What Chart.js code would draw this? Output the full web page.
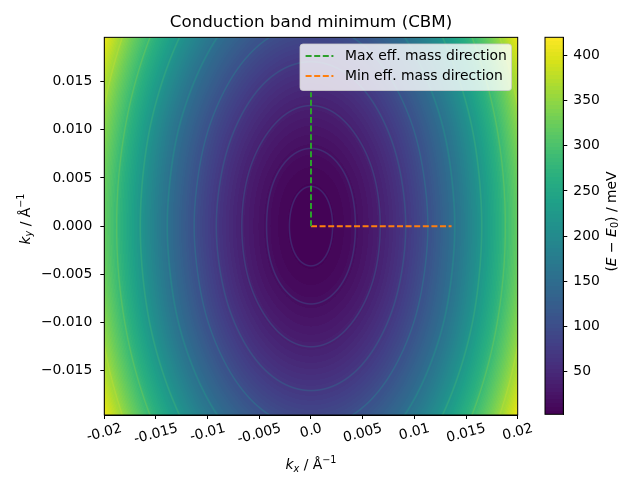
<!DOCTYPE html>
<html>
<head>
  <title>Conduction band minimum (CBM)</title>
  <script src="https://cdn.jsdelivr.net/npm/chart.js"></script>
  <style>
    body { margin: 0; background: #fff; }
    #wrap { position: relative; width: 640px; height: 480px; }
    #bandChart { position: absolute; left: 0; top: 0; }
    #colorbar { position: absolute; left: 530px; top: 0; }
  </style>
</head>
<body>
  <div id="wrap">
    <canvas id="bandChart" width="640" height="480"></canvas>
    <canvas id="colorbar" width="110" height="480"></canvas>
  </div>

  <script>
    // sampled band energy (E - E0, meV), rows go from bottom (ky min) to top (ky max)
    const kxGrid = [-0.02, -0.015, -0.01, -0.005, 0, 0.005, 0.01, 0.015, 0.02];
    const kyGrid = [-0.0196, -0.0147, -0.0098, -0.0049, 0, 0.0049, 0.0098, 0.0147, 0.0196];
    const energy = [
      [408, 269, 170, 111, 91, 111, 170, 269, 408],
      [369, 231, 132, 72, 52, 72, 132, 231, 369],
      [342, 203, 104, 45, 25, 45, 104, 203, 342],
      [325, 187, 88, 28, 8, 28, 88, 187, 325],
      [320, 181, 82, 23, 2.8, 23, 82, 181, 320],
      [325, 187, 88, 28, 8, 28, 88, 187, 325],
      [342, 203, 104, 45, 25, 45, 104, 203, 342],
      [369, 231, 132, 72, 52, 72, 132, 231, 369],
      [408, 269, 170, 111, 91, 111, 170, 269, 408]
    ];
    const contourLevels = [6.4, 17.8, 38.6, 69.3, 104, 156, 219, 283, 355];
    const energyRange = [2.8, 420];

    const maxDirection = [{ x: 0, y: 0 }, { x: 0, y: 0.0139 }];
    const minDirection = [{ x: 0, y: 0 }, { x: 0.0136, y: 0 }];

    const xTickLabels = ['-0.02', '-0.015', '-0.01', '-0.005', '0.0', '0.005', '0.01', '0.015', '0.02'];
    const yTickLabels = ['\u22120.015', '\u22120.010', '\u22120.005', '0.000', '0.005', '0.010', '0.015'];
    const cbarTicks = [50, 100, 150, 200, 250, 300, 350, 400];

    const FONT = 'DejaVu Sans';
    Chart.defaults.font.family = FONT;
    Chart.defaults.font.size = 13.9;
    Chart.defaults.color = '#000';

    const VIRIDIS = ['#440154', '#48186a', '#472d7b', '#424086', '#3b528b', '#33638d', '#2c728e', '#26828e',
      '#21918c', '#1fa088', '#28ae80', '#3fbc73', '#5ec962', '#84d44b', '#addc30', '#d8e219', '#fde725']
      .map(h => [parseInt(h.slice(1, 3), 16), parseInt(h.slice(3, 5), 16), parseInt(h.slice(5, 7), 16)]);

    function viridis(t) {
      t = Math.min(1, Math.max(0, t));
      const s = t * (VIRIDIS.length - 1);
      const i = Math.min(Math.floor(s), VIRIDIS.length - 2);
      const f = s - i;
      return [0, 1, 2].map(k => VIRIDIS[i][k] + (VIRIDIS[i + 1][k] - VIRIDIS[i][k]) * f);
    }

    function norm(v) {
      return (v - energyRange[0]) / (energyRange[1] - energyRange[0]);
    }

    // filled contour look: quantize the colour into many bands
    const N_BANDS = 100;
    function fillColour(v) {
      const t = norm(v);
      const b = Math.min(N_BANDS - 1, Math.max(0, Math.floor(t * N_BANDS)));
      return viridis((b + 0.5) / N_BANDS);
    }

    // pad the grid by one cell each side so the cubic has neighbours at the border
    function padRow(a) {
      const n = a.length;
      return [3 * a[0] - 3 * a[1] + a[2]].concat(a, [3 * a[n - 1] - 3 * a[n - 2] + a[n - 3]]);
    }
    const wide = energy.map(padRow);
    const nr = wide.length;
    const padded = [wide[0].map((v, i) => 3 * v - 3 * wide[1][i] + wide[2][i])]
      .concat(wide, [wide[nr - 1].map((v, i) => 3 * v - 3 * wide[nr - 2][i] + wide[nr - 3][i])]);

    function cr(p0, p1, p2, p3, t) {
      return 0.5 * (2 * p1 + (-p0 + p2) * t + (2 * p0 - 5 * p1 + 4 * p2 - p3) * t * t + (-p0 + 3 * p1 - 3 * p2 + p3) * t * t * t);
    }

    function sampleEnergy(kx, ky) {
      const fx = (kx - kxGrid[0]) / (kxGrid[1] - kxGrid[0]);
      const fy = (ky - kyGrid[0]) / (kyGrid[1] - kyGrid[0]);
      const i = Math.min(kxGrid.length - 2, Math.max(0, Math.floor(fx)));
      const j = Math.min(kyGrid.length - 2, Math.max(0, Math.floor(fy)));
      const tx = fx - i, ty = fy - j;
      const col = [];
      for (let r = 0; r < 4; r++) {
        const row = padded[j + r];
        col.push(cr(row[i], row[i + 1], row[i + 2], row[i + 3], tx));
      }
      return cr(col[0], col[1], col[2], col[3], ty);
    }

    const heatmapPlugin = {
      id: 'heatmap',
      beforeDatasetsDraw(chart) {
        const { ctx, chartArea: a, scales: { x, y } } = chart;
        const x0 = Math.floor(a.left), y0 = Math.floor(a.top);
        const w = Math.ceil(a.right) - x0, h = Math.ceil(a.bottom) - y0;
        const vals = new Float32Array(w * h);
        for (let j = 0; j < h; j++) {
          const ky = y.getValueForPixel(y0 + j + 0.5);
          for (let i = 0; i < w; i++) {
            vals[j * w + i] = sampleEnergy(x.getValueForPixel(x0 + i + 0.5), ky);
          }
        }
        const off = document.createElement('canvas');
        off.width = w; off.height = h;
        const octx = off.getContext('2d');
        const img = octx.createImageData(w, h);
        for (let j = 0; j < h; j++) {
          for (let i = 0; i < w; i++) {
            const k = j * w + i;
            const v = vals[k];
            const gx = (vals[j * w + Math.min(w - 1, i + 1)] - vals[j * w + Math.max(0, i - 1)]) / 2;
            const gy = (vals[Math.min(h - 1, j + 1) * w + i] - vals[Math.max(0, j - 1) * w + i]) / 2;
            const g = Math.hypot(gx, gy) || 1e-9;
            let best = Infinity, lev = 0;
            for (const c of contourLevels) {
              const d = Math.abs(v - c) / g;
              if (d < best) { best = d; lev = c; }
            }
            let col = fillColour(v);
            const cover = Math.max(0, Math.min(1, 1.25 - best));
            if (cover > 0) {
              const lc = viridis(norm(lev) + 0.2);
              const al = cover * 0.5 * (1 - 0.8 * norm(lev));
              col = col.map((c, m) => c * (1 - al) + lc[m] * al);
            }
            img.data[k * 4] = col[0];
            img.data[k * 4 + 1] = col[1];
            img.data[k * 4 + 2] = col[2];
            img.data[k * 4 + 3] = 255;
          }
        }
        octx.putImageData(img, 0, 0);
        ctx.save();
        ctx.beginPath();
        ctx.rect(a.left, a.top, a.width, a.height);
        ctx.clip();
        ctx.drawImage(off, x0, y0);
        ctx.restore();
      }
    };

    // draws text with italic / sub / superscript pieces, centred on cx, baseline cy
    function drawMathLabel(ctx, parts, cx, cy, angle) {
      ctx.save();
      ctx.translate(cx, cy);
      ctx.rotate(angle);
      ctx.fillStyle = '#000';
      ctx.textAlign = 'left';
      ctx.textBaseline = 'alphabetic';
      const widths = parts.map(p => {
        ctx.font = (p.italic ? 'italic ' : '') + (p.size || 13.9) + 'px ' + FONT;
        return ctx.measureText(p.t).width;
      });
      let px = -widths.reduce((s, v) => s + v, 0) / 2;
      parts.forEach((p, i) => {
        ctx.font = (p.italic ? 'italic ' : '') + (p.size || 13.9) + 'px ' + FONT;
        ctx.fillText(p.t, px, p.dy || 0);
        px += widths[i];
      });
      ctx.restore();
    }

    const decorPlugin = {
      id: 'decor',
      afterDraw(chart) {
        const { ctx, chartArea: a, scales: { x } } = chart;

        // frame
        ctx.save();
        ctx.strokeStyle = '#000';
        ctx.lineWidth = 1;
        ctx.strokeRect(a.left, a.top, a.width, a.height);
        ctx.restore();

        // rotated x tick labels
        const ang = 15 * Math.PI / 180;
        ctx.save();
        ctx.font = '13.9px ' + FONT;
        ctx.fillStyle = '#000';
        x.ticks.forEach((t, i) => {
          const label = xTickLabels[i];
          if (label === undefined) return;
          const px = x.getPixelForValue(t.value);
          const w = ctx.measureText(label).width;
          const cy = a.bottom + 7 + (w * Math.sin(ang) + 13 * Math.cos(ang)) / 2;
          ctx.save();
          ctx.translate(px, cy);
          ctx.rotate(-ang);
          ctx.textAlign = 'center';
          ctx.textBaseline = 'middle';
          ctx.fillText(label, 0, 0);
          ctx.restore();
        });
        ctx.restore();

        // axis titles
        drawMathLabel(ctx, [
          { t: 'k', italic: true },
          { t: 'x', italic: true, size: 9.7, dy: 2.8 },
          { t: ' / \u00c5' },
          { t: '\u22121', size: 9.7, dy: -5.8 }
        ], (a.left + a.right) / 2, 469, 0);
        drawMathLabel(ctx, [
          { t: 'k', italic: true },
          { t: 'y', italic: true, size: 9.7, dy: 2.8 },
          { t: ' / \u00c5' },
          { t: '\u22121', size: 9.7, dy: -5.8 }
        ], 29.5, 219, -Math.PI / 2);

        // legend
        const bx = 300, by = 44, bw = 211.5, bh = 46.5;
        ctx.save();
        ctx.beginPath();
        ctx.roundRect(bx, by, bw, bh, 3);
        ctx.fillStyle = 'rgba(255,255,255,0.8)';
        ctx.fill();
        ctx.strokeStyle = 'rgba(204,204,204,0.8)';
        ctx.lineWidth = 1;
        ctx.stroke();
        chart.data.datasets.forEach((ds, i) => {
          const ry = 56 + i * 20;
          ctx.beginPath();
          ctx.setLineDash(ds.borderDash);
          ctx.strokeStyle = ds.borderColor;
          ctx.lineWidth = ds.borderWidth;
          ctx.moveTo(bx + 5.6, ry);
          ctx.lineTo(bx + 33.4, ry);
          ctx.stroke();
          ctx.setLineDash([]);
          ctx.font = '13.9px ' + FONT;
          ctx.fillStyle = '#000';
          ctx.textAlign = 'left';
          ctx.textBaseline = 'middle';
          ctx.fillText(ds.label, bx + 45, ry + 0.5);
        });
        ctx.restore();
      }
    };

    new Chart(document.getElementById('bandChart'), {
      type: 'scatter',
      data: {
        datasets: [
          {
            label: 'Max eff. mass direction',
            data: maxDirection,
            showLine: true,
            borderColor: '#2ca02c',
            borderWidth: 2,
            borderDash: [6, 2.6],
            pointRadius: 0,
            fill: false
          },
          {
            label: 'Min eff. mass direction',
            data: minDirection,
            showLine: true,
            borderColor: '#ff7f0e',
            borderWidth: 2,
            borderDash: [6, 2.6],
            pointRadius: 0,
            fill: false
          }
        ]
      },
      options: {
        responsive: false,
        animation: false,
        layout: { padding: { left: 0, right: 122.3, top: 0, bottom: 0 } },
        plugins: {
          legend: { display: false },
          tooltip: { enabled: false },
          title: {
            display: true,
            text: 'Conduction band minimum (CBM)',
            fullSize: false,
            color: '#000',
            font: { family: FONT, size: 16.7, weight: 'normal' },
            padding: { top: 13, bottom: 4.3 }
          }
        },
        scales: {
          x: {
            type: 'linear',
            min: -0.02,
            max: 0.02,
            ticks: { stepSize: 0.005, display: false },
            grid: { drawOnChartArea: false, tickLength: 4, color: '#000' },
            border: { color: '#000' },
            afterFit: s => { s.height = 65; }
          },
          y: {
            type: 'linear',
            min: -0.0196,
            max: 0.0196,
            ticks: {
              stepSize: 0.005,
              includeBounds: false,
              padding: 8,
              color: '#000',
              font: { family: FONT, size: 13.9 },
              callback: (v, i) => yTickLabels[i]
            },
            grid: { drawOnChartArea: false, tickLength: 4, color: '#000' },
            border: { color: '#000' },
            afterFit: s => { s.width = 104.3; }
          }
        }
      },
      plugins: [heatmapPlugin, decorPlugin]
    });

    const colorbarPlugin = {
      id: 'colorbarFill',
      beforeDatasetsDraw(chart) {
        const { ctx, chartArea: a, scales: { y } } = chart;
        ctx.save();
        ctx.beginPath();
        ctx.rect(a.left, a.top, a.width, a.height);
        ctx.clip();
        for (let py = Math.floor(a.top); py < Math.ceil(a.bottom); py++) {
          const c = fillColour(y.getValueForPixel(py + 0.5));
          ctx.fillStyle = `rgb(${c[0]},${c[1]},${c[2]})`;
          ctx.fillRect(a.left, py, a.width, 1);
        }
        ctx.restore();
      },
      afterDraw(chart) {
        const { ctx, chartArea: a } = chart;
        ctx.save();
        ctx.strokeStyle = '#000';
        ctx.lineWidth = 1;
        ctx.strokeRect(a.left, a.top, a.width, a.height);
        ctx.restore();
        drawMathLabel(ctx, [
          { t: '(' },
          { t: 'E', italic: true },
          { t: ' \u2212 ' },
          { t: 'E', italic: true },
          { t: '0', size: 9.7, dy: 2.8 },
          { t: ') / meV' }
        ], 85.5, 221.5, -Math.PI / 2);
      }
    };

    new Chart(document.getElementById('colorbar'), {
      type: 'scatter',
      data: { datasets: [] },
      options: {
        responsive: false,
        animation: false,
        layout: { padding: { left: 15, right: 0, top: 37.3, bottom: 65.7 } },
        plugins: { legend: { display: false }, tooltip: { enabled: false } },
        scales: {
          x: { display: false, min: 0, max: 1 },
          y: {
            type: 'linear',
            position: 'right',
            min: energyRange[0],
            max: energyRange[1],
            afterBuildTicks: s => { s.ticks = cbarTicks.map(v => ({ value: v })); },
            ticks: {
              padding: 6,
              color: '#000',
              font: { family: FONT, size: 13.9 },
              callback: v => String(v)
            },
            grid: { drawOnChartArea: false, tickLength: 4, color: '#000' },
            border: { color: '#000' },
            afterFit: s => { s.width = 76.7; }
          }
        }
      },
      plugins: [colorbarPlugin]
    });
  </script>
</body>
</html>
